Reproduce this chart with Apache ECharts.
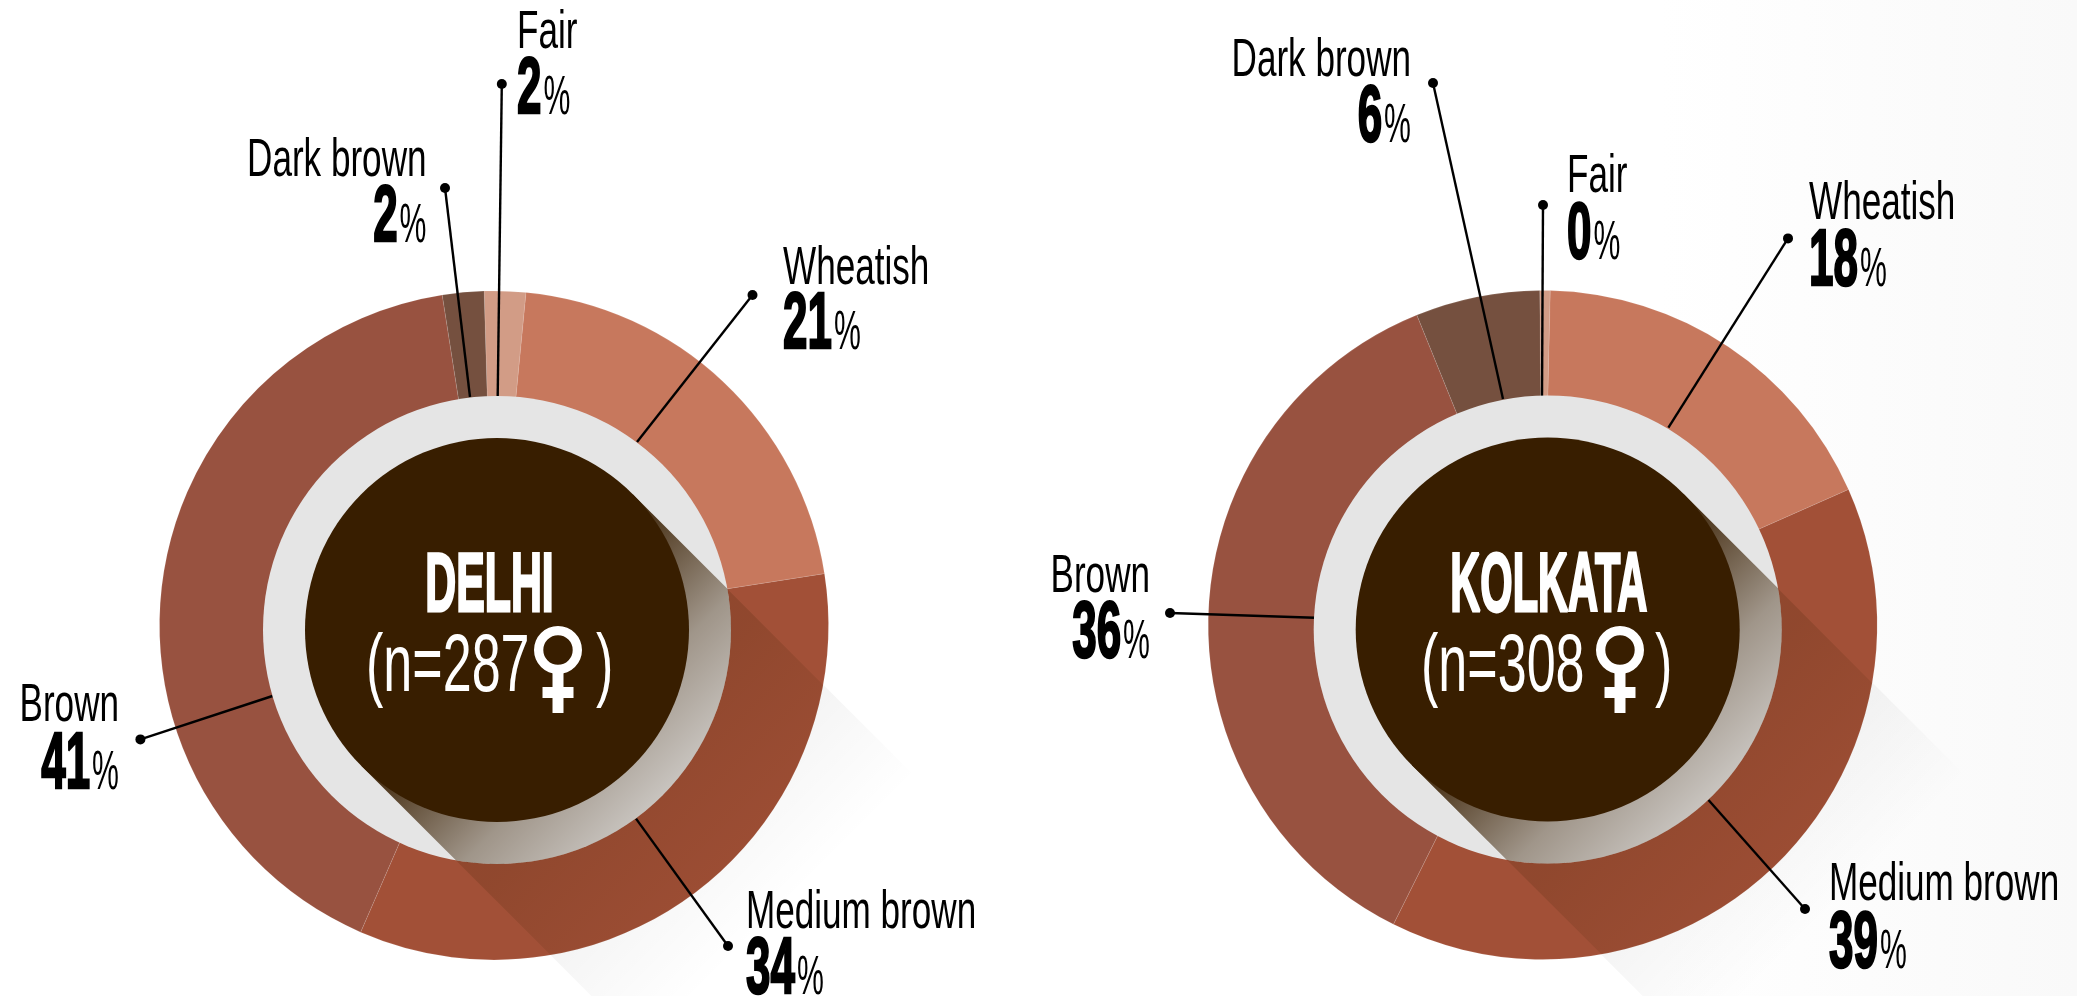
<!DOCTYPE html>
<html><head><meta charset="utf-8">
<style>html,body{margin:0;padding:0;background:#fff}#c{width:2077px;height:996px}</style>
<script src="https://cdn.jsdelivr.net/npm/echarts@6/dist/echarts.min.js"></script>
</head><body><div id="c"></div>
<script>
// ---- data ----
const skinTones = ['Fair', 'Wheatish', 'Medium brown', 'Brown', 'Dark brown'];
const delhiValues = [2, 21, 34, 41, 2];
const kolkataValues = [0.5, 18, 39, 36.5, 6];
const delhiLabels = [2, 21, 34, 41, 2];
const kolkataLabels = [0, 18, 39, 36, 6];
const cityNames = ['DELHI', 'KOLKATA'];
const sampleSizes = [287, 308];

// ---- styles / layout ----
const toneColors = ['#D29C86', '#C7785D', '#A25037', '#985240', '#75503F'];
const DISC = '#381E00', GRAY = '#E5E5E5';
const FONT = '"Liberation Sans", Arial, sans-serif';
const cityLayout = [
  { pie: [494, 625.4], disc: [497, 630], start: 91.7, values: delhiValues, labels: delhiLabels,
    titleX: 489.5, titleScale: .51, openX: 366, closeX: 596, venusX: 558,
    notes: [
      { x: 517, side: 'l', nameY: 30.5, numY: 88, dot: [501.8, 84], end: [497.7, 396] },
      { x: 783, side: 'l', nameY: 266.5, numY: 323, dot: [752.5, 295], end: [637, 442] },
      { x: 746, side: 'l', nameY: 910.5, numY: 968, dot: [728, 946], end: [636, 818.6] },
      { x: 119, side: 'r', nameY: 703.5, numY: 763, dot: [140.4, 739.4], end: [272.5, 696] },
      { x: 426.5, side: 'r', nameY: 158.5, numY: 216, dot: [445, 188], end: [470, 397] }
    ] },
  { pie: [1542.7, 625], disc: [1547.7, 629.5], start: 90.5, values: kolkataValues, labels: kolkataLabels,
    titleX: 1548.8, titleScale: .495, openX: 1421, closeX: 1655, venusX: 1620,
    notes: [
      { x: 1567, side: 'l', nameY: 174.5, numY: 233, dot: [1543, 205], end: [1542, 396] },
      { x: 1809, side: 'l', nameY: 201.5, numY: 260, dot: [1788, 238.4], end: [1668.4, 427.6] },
      { x: 1829, side: 'l', nameY: 882.5, numY: 942, dot: [1805, 909], end: [1708.5, 800] },
      { x: 1150, side: 'r', nameY: 574.5, numY: 632, dot: [1170, 613], end: [1314.5, 617.7] },
      { x: 1411, side: 'r', nameY: 58.5, numY: 116, dot: [1433, 83], end: [1503, 399] }
    ] }
];
const PIE_R = 334.5, RING_R = 234, DISC_R = 192;

const ctx = document.createElement('canvas').getContext('2d');
function textWidth(t, font) { ctx.font = font; return ctx.measureText(t).width; }

const U = Math.SQRT1_2;
// part of a circle lying inside the 45-degree cast shadow of the disc
function shadowOnCircle(disc, centre, R) {
  const pts = [[disc[0] + DISC_R * U, disc[1] - DISC_R * U]];
  for (let i = 0; i <= 1440; i++) {
    const a = (-45 + i / 8) * Math.PI / 180;
    const x = centre[0] + R * Math.cos(a), y = centre[1] + R * Math.sin(a);
    const s = ((x - disc[0]) - (y - disc[1])) * U;
    if (Math.abs(s) <= DISC_R) pts.push([x, y]);
  }
  pts.push([disc[0] - DISC_R * U, disc[1] + DISC_R * U]);
  return pts;
}
function grad(disc, t0, t1, stops) {
  return { type: 'linear', global: true,
    x: disc[0] + t0 * U, y: disc[1] + t0 * U, x2: disc[0] + t1 * U, y2: disc[1] + t1 * U,
    colorStops: stops };
}
function text(x, y, str, size, weight, sx, align, extra) {
  return { type: 'text', x, y, z: 30, scaleX: sx, silent: true,
    style: Object.assign({ text: str, fill: '#000', font: `${weight} ${size}px ${FONT}`,
      align: align, verticalAlign: 'middle' }, extra || {}) };
}

const elements = [];
elements.push({ type: 'rect', z: 0, silent: true, shape: { x: 0, y: 0, width: 2077, height: 996 },
  style: { fill: { type: 'linear', x: 0, y: 0, x2: 1, y2: 0, colorStops: [
    { offset: 0, color: '#ffffff' }, { offset: .8, color: '#ffffff' }, { offset: 1, color: '#f9f9f9' }] } } });

cityLayout.forEach((city, ci) => {
  const d = city.disc;
  // faint long shadow on the page
  const L = 400;
  elements.push({ type: 'polygon', z: 1, silent: true,
    shape: { points: [
      [d[0] + DISC_R * U, d[1] - DISC_R * U],
      [d[0] + DISC_R * U + L * U, d[1] - DISC_R * U + L * U],
      [d[0] - DISC_R * U + L * U, d[1] + DISC_R * U + L * U],
      [d[0] - DISC_R * U, d[1] + DISC_R * U]] },
    style: { fill: grad(d, 280, L, [
      { offset: 0, color: 'rgba(0,0,0,.04)' }, { offset: 1, color: 'rgba(0,0,0,0)' }]) } });
  // shadow darkening the slices
  elements.push({ type: 'polygon', z: 10, silent: true,
    shape: { points: shadowOnCircle(d, city.pie, PIE_R) },
    style: { fill: grad(d, 170, 334, [
      { offset: 0, color: 'rgba(56,30,0,.17)' }, { offset: 1, color: 'rgba(56,30,0,.06)' }]) } });
  elements.push({ type: 'circle', z: 11, silent: true,
    shape: { cx: d[0], cy: d[1], r: RING_R }, style: { fill: GRAY } });
  elements.push({ type: 'polygon', z: 12, silent: true,
    shape: { points: shadowOnCircle(d, d, RING_R) },
    style: { fill: grad(d, 0, RING_R, [
      { offset: 0, color: 'rgba(56,30,0,1)' },
      { offset: .2, color: 'rgba(56,30,0,.8)' },
      { offset: .6, color: 'rgba(56,30,0,.4)' },
      { offset: 1, color: 'rgba(56,30,0,.17)' }]) } });
  elements.push({ type: 'circle', z: 13, silent: true,
    shape: { cx: d[0], cy: d[1], r: DISC_R }, style: { fill: DISC } });

  // centre text
  elements.push(text(city.titleX, 588, cityNames[ci], 84, 'bold', city.titleScale, 'center',
    { fill: '#fff', stroke: '#fff', lineWidth: 3 }));
  elements.push(text(city.openX, 668, '(n=' + sampleSizes[ci], 82, 'normal', .635, 'left', { fill: '#fff' }));
  elements.push(text(city.closeX, 668, ')', 82, 'normal', .635, 'left', { fill: '#fff' }));
  const vx = city.venusX;
  elements.push({ type: 'ring', z: 30, silent: true, shape: { cx: vx, cy: 650, r: 24, r0: 14.7 }, style: { fill: '#fff' } });
  elements.push({ type: 'rect', z: 30, silent: true, shape: { x: vx - 5.5, y: 670, width: 11, height: 43 }, style: { fill: '#fff' } });
  elements.push({ type: 'rect', z: 30, silent: true, shape: { x: vx - 15.5, y: 687, width: 31, height: 11 }, style: { fill: '#fff' } });

  // leader lines and labels
  city.notes.forEach((n, i) => {
    elements.push({ type: 'line', z: 10, silent: true,
      shape: { x1: n.dot[0], y1: n.dot[1], x2: n.end[0], y2: n.end[1] },
      style: { stroke: '#000', lineWidth: 2.4 } });
    elements.push({ type: 'circle', z: 10, silent: true,
      shape: { cx: n.dot[0], cy: n.dot[1], r: 5 }, style: { fill: '#000' } });

    const num = String(city.labels[i]);
    const SN = .55, SP = .54;
    const numW = textWidth(num, `bold 80px ${FONT}`) * SN;
    const pctW = textWidth('%', `normal 56px ${FONT}`) * SP;
    const gap = 2;
    const left = n.side === 'l' ? n.x : n.x - numW - gap - pctW;
    elements.push(text(n.x, n.nameY + 2.5, skinTones[i], 54, 'normal', .65, n.side === 'l' ? 'left' : 'right'));
    elements.push(text(left, n.numY + 2.5, num, 80, 'bold', SN, 'left', { stroke: '#000', lineWidth: 2.5 }));
    elements.push(text(left + numW + gap, n.numY + 11, '%', 56, 'normal', SP, 'left'));
  });
});

const chart = echarts.init(document.getElementById('c'), null, { renderer: 'canvas' });
chart.setOption({
  animation: false,
  backgroundColor: 'transparent',
  graphic: { elements },
  series: cityLayout.map((city, ci) => ({
    type: 'pie', name: cityNames[ci], z: 5, silent: true,
    center: city.pie, radius: [190, PIE_R],
    startAngle: city.start, clockwise: true, avoidLabelOverlap: false,
    label: { show: false }, labelLine: { show: false },
    itemStyle: { borderColor: 'rgba(255,255,255,.18)', borderWidth: .6 },
    data: skinTones.map((t, i) => ({ name: t, value: city.values[i], itemStyle: { color: toneColors[i] } }))
  }))
});
</script></body></html>
